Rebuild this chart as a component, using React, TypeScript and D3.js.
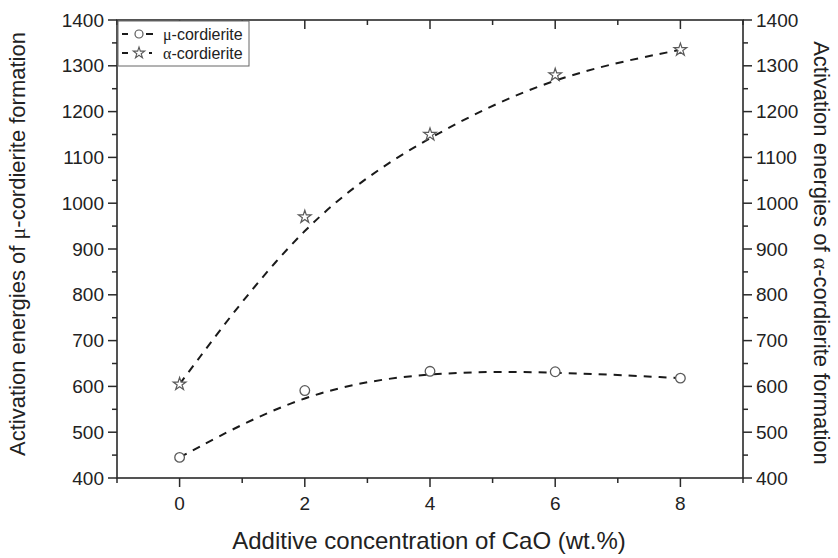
import React from "react";
import * as d3 from "d3";

// CaO additive content (wt.%)
const caoContent = [0, 2, 4, 6, 8];
// Activation energies of mu-cordierite formation
const muEnergy = [445, 591, 633, 632, 618];
// Activation energies of alpha-cordierite formation
const alphaEnergy = [605, 970, 1150, 1280, 1335];

const yTicks = [400, 500, 600, 700, 800, 900, 1000, 1100, 1200, 1300, 1400];
const xTicks = [0, 2, 4, 6, 8];

const W = 838;
const H = 558;
const M = { left: 117, right: 743, top: 20, bottom: 478 };

const FONT = "'Liberation Sans', Arial, sans-serif";
const GREEK = "'Liberation Serif', 'Times New Roman', serif";
const AXIS = "#2a2a2a";
const MARK = "#5a5a5a";

export default function App() {
  const x = d3.scaleLinear().domain([-1, 9]).range([M.left, M.right]);
  const y = d3.scaleLinear().domain([400, 1400]).range([M.bottom, M.top]);

  const line = d3
    .line<[number, number]>()
    .x((d) => x(d[0]))
    .y((d) => y(d[1]))
    .curve(d3.curveBasis);

  const muPts = caoContent.map((c, i) => [c, muEnergy[i]] as [number, number]);
  const alphaPts = caoContent.map((c, i) => [c, alphaEnergy[i]] as [number, number]);

  const star = d3.symbol().type(d3.symbolStar).size(50)()!;

  const xMinor = d3.range(-1, 10, 1).filter((v) => !xTicks.includes(v));
  const yMinor = d3.range(450, 1400, 100);

  return (
    <svg width={W} height={H} style={{ position: "absolute", left: 0, top: 0, background: "#fff" }}>
      <rect width={W} height={H} fill="#fff" />

      {/* trend curves */}
      <path d={line(muPts)!} fill="none" stroke="#1a1a1a" strokeWidth={2} strokeDasharray="8,7" />
      <path d={line(alphaPts)!} fill="none" stroke="#1a1a1a" strokeWidth={2} strokeDasharray="8,7" />

      {/* markers */}
      {muPts.map((p, i) => (
        <circle key={"m" + i} cx={x(p[0])} cy={y(p[1])} r={4.8} fill="#fff" stroke={MARK} strokeWidth={1.3} />
      ))}
      {alphaPts.map((p, i) => (
        <path
          key={"a" + i}
          d={star}
          transform={`translate(${x(p[0])},${y(p[1])})`}
          fill="#fff"
          stroke={MARK}
          strokeWidth={1.2}
        />
      ))}

      {/* frame */}
      <rect
        x={M.left}
        y={M.top}
        width={M.right - M.left}
        height={M.bottom - M.top}
        fill="none"
        stroke={AXIS}
        strokeWidth={1.6}
      />

      {/* bottom axis ticks (outward) and top axis ticks (inward) */}
      {xTicks.map((t) => (
        <g key={"xt" + t}>
          <line x1={x(t)} x2={x(t)} y1={M.bottom} y2={M.bottom + 9} stroke={AXIS} strokeWidth={1.5} />
          <line x1={x(t)} x2={x(t)} y1={M.top} y2={M.top + 9} stroke={AXIS} strokeWidth={1.5} />
          <text x={x(t)} y={510} textAnchor="middle" fontFamily={FONT} fontSize={19} fill="#222">
            {t}
          </text>
        </g>
      ))}
      {xMinor.map((t) => (
        <g key={"xm" + t}>
          <line x1={x(t)} x2={x(t)} y1={M.bottom} y2={M.bottom + 5} stroke={AXIS} strokeWidth={1.5} />
          <line x1={x(t)} x2={x(t)} y1={M.top} y2={M.top + 5} stroke={AXIS} strokeWidth={1.5} />
        </g>
      ))}

      {/* left and right axis ticks (outward) */}
      {yTicks.map((t) => (
        <g key={"yt" + t}>
          <line x1={M.left - 9} x2={M.left} y1={y(t)} y2={y(t)} stroke={AXIS} strokeWidth={1.5} />
          <line x1={M.right} x2={M.right + 9} y1={y(t)} y2={y(t)} stroke={AXIS} strokeWidth={1.5} />
          <text x={104} y={y(t)} dy="0.35em" textAnchor="end" fontFamily={FONT} fontSize={19} fill="#222">
            {t}
          </text>
          <text x={756} y={y(t)} dy="0.35em" textAnchor="start" fontFamily={FONT} fontSize={19} fill="#222">
            {t}
          </text>
        </g>
      ))}
      {yMinor.map((t) => (
        <g key={"ym" + t}>
          <line x1={M.left - 5} x2={M.left} y1={y(t)} y2={y(t)} stroke={AXIS} strokeWidth={1.5} />
          <line x1={M.right} x2={M.right + 5} y1={y(t)} y2={y(t)} stroke={AXIS} strokeWidth={1.5} />
        </g>
      ))}

      {/* axis titles */}
      <text x={429} y={549} textAnchor="middle" fontFamily={FONT} fontSize={24} fill="#222">
        Additive concentration of CaO (wt.%)
      </text>
      <text
        transform={`translate(25,${(M.top + M.bottom) / 2 - 5}) rotate(-90)`}
        textAnchor="middle"
        fontFamily={FONT}
        fontSize={22}
        fill="#222"
      >
        Activation energies of <tspan fontFamily={GREEK}>μ</tspan>-cordierite formation
      </text>
      <text
        transform={`translate(814,${(M.top + M.bottom) / 2 + 4}) rotate(90)`}
        textAnchor="middle"
        fontFamily={FONT}
        fontSize={22}
        fill="#222"
      >
        Activation energies of <tspan fontFamily={GREEK}>α</tspan>-cordierite formation
      </text>

      {/* legend */}
      <g>
        <rect x={118} y={21} width={131} height={45} fill="#fff" stroke="#666" strokeWidth={1} />
        <line x1={122} x2={128} y1={34} y2={34} stroke="#1a1a1a" strokeWidth={2} />
        <circle cx={139} cy={34} r={4} fill="#fff" stroke={MARK} strokeWidth={1.2} />
        <line x1={146} x2={153} y1={34} y2={34} stroke="#1a1a1a" strokeWidth={2} />
        <text x={163} y={34} dy="0.35em" fontFamily={FONT} fontSize={16} fill="#222">
          <tspan fontFamily={GREEK}>μ</tspan>-cordierite
        </text>

        <line x1={122} x2={128} y1={53} y2={53} stroke="#1a1a1a" strokeWidth={2} />
        <path d={d3.symbol().type(d3.symbolStar).size(40)()!} transform="translate(139,53)" fill="#fff" stroke={MARK} strokeWidth={1.1} />
        <line x1={149} x2={152} y1={53} y2={53} stroke="#1a1a1a" strokeWidth={2} />
        <text x={163} y={53} dy="0.35em" fontFamily={FONT} fontSize={16} fill="#222">
          <tspan fontFamily={GREEK}>α</tspan>-cordierite
        </text>
      </g>
    </svg>
  );
}
